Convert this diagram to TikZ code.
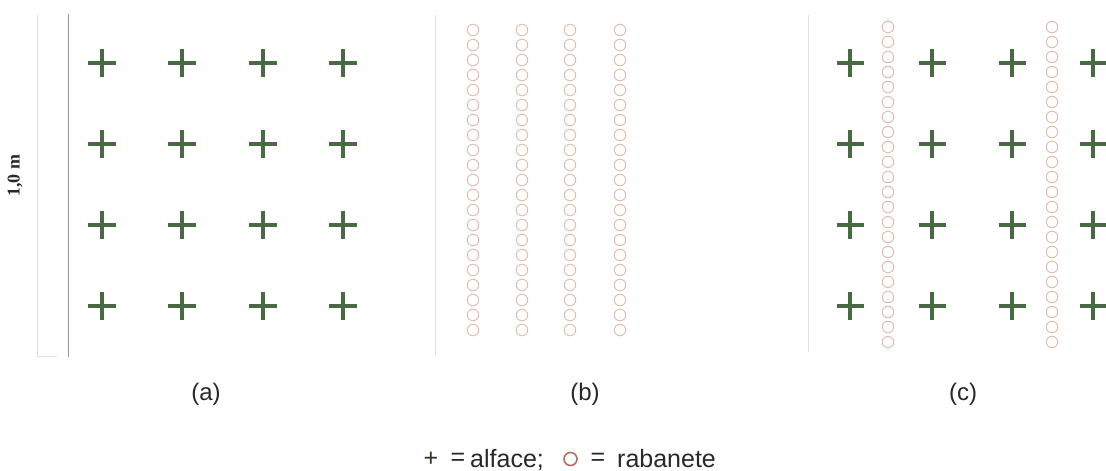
\documentclass[tikz,border=0pt]{standalone}
\usepackage{fontspec}
\setmainfont{Liberation Sans}
\newfontfamily\scalefont{Liberation Serif}
\usetikzlibrary{shapes.misc}
\definecolor{alfgreen}{RGB}{72,106,66}
\definecolor{rabpink}{RGB}{226,190,172}
\definecolor{rabred}{RGB}{182,110,94}
\definecolor{rulegray}{RGB}{150,150,150}
\definecolor{faintgray}{RGB}{225,225,225}
\definecolor{textgray}{RGB}{40,40,40}

\begin{document}
\begin{tikzpicture}[x=1pt,y=-1pt,
	alface/.style={cross out,draw=alfgreen,line width=3.6pt,minimum size=15.5pt,inner sep=0pt,rotate=45},
	rabanete/.style={circle,draw=rabpink,line width=1pt,minimum size=11.5pt,inner sep=0pt},
	panel_label/.style={text=textgray,font=\fontsize{24}{28}\selectfont},
	key_text/.style={text=textgray,font=\fontsize{25}{30}\selectfont,inner sep=0pt}]

		\useasboundingbox (0,0) rectangle (1106,471);

		% scale bar
		\coordinate (s1) at (37,15);
		\coordinate (s2) at (37,356);
		\coordinate (s3) at (57,356);
		\draw[faintgray,line width=1pt] (s1) -- (s2) -- (s3);
		\node[rotate=90,text=textgray,font=\scalefont\bfseries\fontsize{18}{20}\selectfont] (scale) at (15,176) {1,0 m};

		% panel edges
		\coordinate (a1) at (68,14);
		\coordinate (a2) at (68,357);
		\coordinate (b1) at (435,15);
		\coordinate (b2) at (435,355);
		\coordinate (c1) at (808,15);
		\coordinate (c2) at (808,352);
		\draw[rulegray,line width=1pt] (a1) -- (a2);
		\draw[faintgray,line width=1pt] (b1) -- (b2);
		\draw[faintgray,line width=1pt] (c1) -- (c2);

		% (a) alface
		\foreach \x [count=\i] in {102,182,263,343}
			\foreach \y [count=\j] in {63,144,225,306}
				\node[alface] (a-\i-\j) at (\x,\y) {};

		% (b) rabanete
		\foreach \x [count=\i] in {473,522,570,620}
			\foreach \k in {0,...,20}
				\node[rabanete] (b-\i-\k) at (\x,30+15*\k) {};

		% (c) consorcio
		\foreach \x [count=\i] in {850,932,1012,1093}
			\foreach \y [count=\j] in {63,144,225,306}
				\node[alface] (c-\i-\j) at (\x,\y) {};
		\foreach \x [count=\i] in {888,1052}
			\foreach \k in {0,...,21}
				\node[rabanete] (r-\i-\k) at (\x,27+15*\k) {};

		\node[panel_label] (la) at (206,394) {(a)};
		\node[panel_label] (lb) at (585,394) {(b)};
		\node[panel_label] (lc) at (963,394) {(c)};

		% legend
		\node[key_text,text=alfgreen!55!black] (keyplus) at (431,459) {+};
		\node[key_text] (keyeq1) at (458,459) {=};
		\node[key_text,anchor=base west] (key1) at (470,467) {alface;};
		\node[circle,draw=rabred,line width=1.6pt,minimum size=13pt,inner sep=0pt] (keyc) at (570.5,459) {};
		\node[key_text] (keyeq2) at (598,459) {=};
		\node[key_text,anchor=base west] (key2) at (617,467) {rabanete};
		\end{tikzpicture}
\end{document}
